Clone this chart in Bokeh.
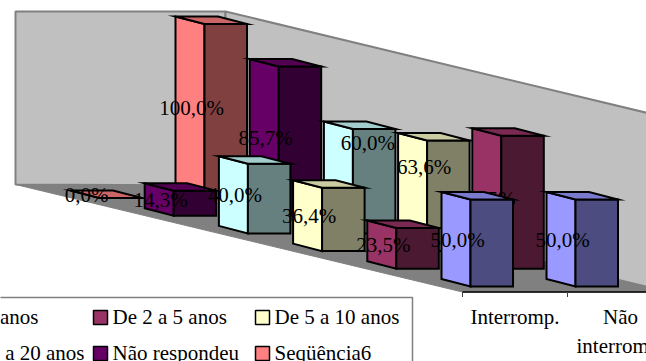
from bokeh.plotting import figure
from bokeh.models import Range1d
from bokeh.embed import file_html
from bokeh.resources import INLINE
from bokeh.core.properties import value

categories = ["Interromp.", "Não interromp."]
series_names = ["Até 2 anos", "De 2 a 5 anos", "De 5 a 10 anos", "De 10 a 20 anos", "Não respondeu", "Seqüência6"]
interromp = [50.0, 23.5, 36.4, 40.0, 14.3, 0.0]
nao_interromp = [50.0, 76.5, 63.6, 60.0, 85.7, 100.0]
front_colors = ["#9999FF", "#993366", "#FFFFCC", "#CCFFFF", "#660066", "#FF8080"]
side_colors = ["#4C4C80", "#4C1933", "#808066", "#668080", "#330033", "#804040"]
top_colors = ["#7A7ACC", "#7A2952", "#CCCCA3", "#A3CCCC", "#520052", "#CC6666"]

# oblique projection, in page pixels
X0, Y0 = 441.0, 278.5      # front-left foot of first bar
CAT_DX = 105.0
SER_DX, SER_DY = -74.2, -17.7
FACE_DX, FACE_DY = 29.0, 7.5
SIDE_DX = 42.5
PX_PER_PCT = 1.74
FONT = value("Liberation Serif")
# two labels were moved by hand in the original: (series, category) -> shift
LABEL_SHIFT = {(2, 1): (10, -25), (3, 1): (28, -35)}

p = figure(width=646, height=361, output_backend="svg", toolbar_location=None,
           x_range=Range1d(0, 646), y_range=Range1d(361, 0),
           min_border=0, outline_line_color=None, background_fill_color="white",
           border_fill_color="white")
p.axis.visible = False
p.grid.visible = False

# walls and floor
p.patch([15, 225, 225, 15], [11, 11, 185, 184], fill_color="#C0C0C0", line_color="#808080", line_width=2)
p.patch([225, 670, 670, 225], [11, 118, 292, 185], fill_color="#C0C0C0", line_color="#808080", line_width=2)
p.patch([15, 225, 670, 670, 462], [184, 185, 292, 291.5, 291.5], fill_color="#808080", line_color="#808080", line_width=1)
p.line([462, 660], [291.5, 291.5], line_color="black", line_width=1.5)
for c in range(2):
    p.line([462 + c * CAT_DX] * 2, [291.5, 296.5], line_color="#404040", line_width=1)

# bars, back series first
for s in range(len(series_names) - 1, -1, -1):
    for c, vals in enumerate([interromp, nao_interromp]):
        h = vals[s] * PX_PER_PCT
        x = X0 + c * CAT_DX + s * SER_DX
        y = Y0 + s * SER_DY
        xa, xb, xc, xd = x, x + FACE_DX, x + FACE_DX + SIDE_DX, x + SIDE_DX
        kw = dict(line_color="black", line_width=2, line_join="miter")
        p.patch([xa, xb, xb, xa], [y, y + FACE_DY, y + FACE_DY - h, y - h], fill_color=front_colors[s], **kw)
        p.patch([xb, xc, xc, xb], [y + FACE_DY, y + FACE_DY, y + FACE_DY - h, y + FACE_DY - h], fill_color=side_colors[s], **kw)
        p.patch([xa, xb, xc, xd], [y - h, y + FACE_DY - h, y + FACE_DY - h, y - h], fill_color=top_colors[s], **kw)
    for c, vals in enumerate([interromp, nao_interromp]):
        h = vals[s] * PX_PER_PCT
        label = f"{vals[s]:.1f}".replace(".", ",") + "%"
        dx, dy = LABEL_SHIFT.get((s, c), (0, 0))
        p.text([X0 + c * CAT_DX + s * SER_DX + 16 + dx], [Y0 + s * SER_DY - h / 2 + 4 + dy], text=[label],
               text_font=FONT, text_font_size="21px", text_color="#000000",
               text_align="center", text_baseline="alphabetic")

# legend
p.patch([-5, 412, 412, -5], [297, 297, 370, 370], fill_color="white", line_color="#808080", line_width=1.5)
for i, name in enumerate(series_names):
    col, row = i % 3, i // 3
    sx, sy = 93 + (col - 1) * 162, 310 + row * 36
    if col > 0:
        p.patch([sx, sx + 14, sx + 14, sx], [sy, sy, sy + 14, sy + 14],
                fill_color=front_colors[i], line_color="black", line_width=1.5)
        p.text([sx + 19], [316 + row * 36], text=[name], text_font=FONT, text_font_size="21px",
               text_color="#000000", text_align="left", text_baseline="alphabetic")
    else:
        p.text([38 if row == 0 else 84], [316 + row * 36], text=[name], text_font=FONT, text_font_size="21px",
               text_color="#000000", text_align="right", text_baseline="alphabetic")

# category labels
p.text([514.5], [316.5], text=[categories[0]], text_font=FONT, text_font_size="21px",
       text_color="#000000", text_align="center", text_baseline="alphabetic")
for line, yy in zip(categories[1].split(" "), [316.5, 345]):
    p.text([620], [yy], text=[line], text_font=FONT, text_font_size="21px",
           text_color="#000000", text_align="center", text_baseline="alphabetic")

open("out.html", "w").write(file_html(p, INLINE))
